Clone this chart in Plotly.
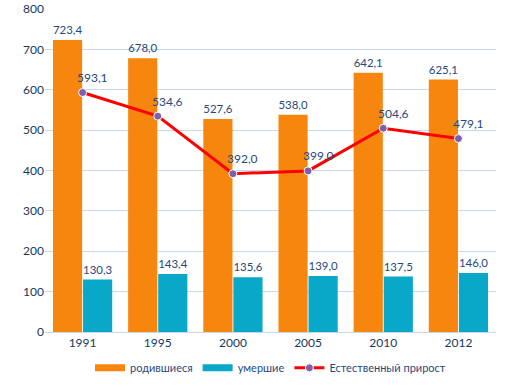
import plotly.graph_objects as go

years = ["1991", "1995", "2000", "2005", "2010", "2012"]
born = [723.4, 678.0, 527.6, 538.0, 642.1, 625.1]
died = [130.3, 143.4, 135.6, 139.0, 137.5, 146.0]
growth = [593.1, 534.6, 392.0, 399.0, 504.6, 479.1]
y_ticks = [0, 100, 200, 300, 400, 500, 600, 700, 800]

text_color = "#1F497D"
font_family = "Lato, 'Open Sans', sans-serif"
orange = "#F7860F"
teal = "#0AA8C8"


def fmt(v):
    return f"{v:.1f}".replace(".", ",")


fig = go.Figure()
fig.add_trace(go.Bar(
    x=years, y=born, name="родившиеся", showlegend=False,
    marker=dict(color=orange, line=dict(width=0)),
    text=[fmt(v) for v in born], textposition="outside",
    textfont=dict(color=text_color, size=12), cliponaxis=False,
))
fig.add_trace(go.Bar(
    x=years, y=died, name="умершие", showlegend=False,
    marker=dict(color=teal, line=dict(width=0)),
    text=[fmt(v) for v in died], textposition="outside",
    textfont=dict(color=text_color, size=12), cliponaxis=False,
))
# legend entries drawn as wide swatches
fig.add_trace(go.Scatter(x=[None], y=[None], name="родившиеся", mode="lines",
                         line=dict(color=orange, width=7)))
fig.add_trace(go.Scatter(x=[None], y=[None], name="умершие", mode="lines",
                         line=dict(color=teal, width=7)))
fig.add_trace(go.Scatter(
    x=years, y=growth, name="Естественный прирост",
    mode="lines+markers",
    line=dict(color="#FF0000", width=3),
    marker=dict(color="#7F5FA8", size=8, line=dict(color="white", width=1)),
))
for i, v in enumerate(growth):
    fig.add_annotation(x=i, y=v, text=fmt(v),
                       showarrow=False, yshift=15, xshift=10,
                       font=dict(color=text_color, size=12, family=font_family))

fig.update_layout(
    width=512, height=388,
    margin=dict(l=45, r=16, t=9, b=56),
    paper_bgcolor="white", plot_bgcolor="white",
    font=dict(family=font_family, color=text_color, size=12),
    barmode="group", bargap=0.2, bargroupgap=0.03,
    showlegend=True,
    legend=dict(orientation="h", x=0.5, xanchor="center",
                yref="container", y=0.052, yanchor="middle",
                font=dict(size=11, color=text_color), itemwidth=30,
                traceorder="normal"),
    xaxis=dict(type="category", categoryorder="array", categoryarray=years,
               automargin=False,
               showgrid=False, showline=True, linecolor="#C6D9F1",
               linewidth=1, ticks="", tickfont=dict(size=12, color="#17375E")),
    yaxis=dict(range=[0, 800], tickvals=y_ticks, showgrid=True, automargin=False,
               gridcolor="#C6D9F1", gridwidth=1, zeroline=False,
               ticks="", tickfont=dict(size=12, color="#17375E")),
)

# remove the page's default 8px body margin so the figure sits at the top-left
fig.write_html("out.html", config={"displayModeBar": False},
               post_script="document.body.style.margin='0';")
